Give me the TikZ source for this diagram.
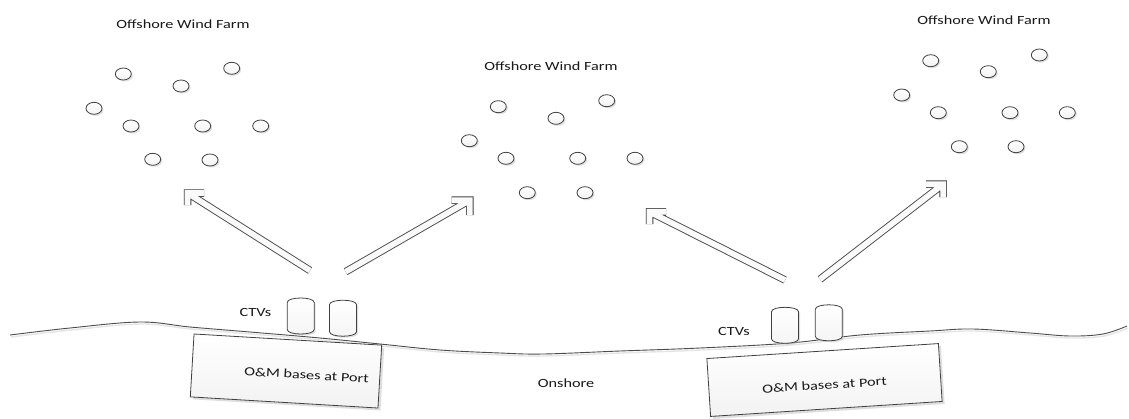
\documentclass[tikz,border=0pt]{standalone}
\usepackage{fontspec}
\newfontfamily\lblfont{Carlito}[FakeStretch=1.3]
\usetikzlibrary{shapes.geometric,shadows}
\tikzset{
  lbl/.style={font=\lblfont\fontsize{12.5}{15}\selectfont, text=black!90, inner sep=0pt},
  turbine/.style={ellipse, draw=black!75, line width=0.8pt, top color=white, bottom color=black!5,
    minimum width=16pt, minimum height=12pt, inner sep=0pt,
    drop shadow={shadow xshift=1.5pt, shadow yshift=-1.5pt, fill=black!25, opacity=0.5}},
  portbox/.style={rectangle, draw=black!75, line width=0.8pt, top color=white, bottom color=black!5,
    inner sep=0pt, drop shadow={shadow xshift=2.5pt, shadow yshift=-2.5pt, fill=black!25, opacity=0.5}},
  ctvshape/.style={draw=black!75, line width=0.8pt, top color=white, bottom color=black!4,
    drop shadow={shadow xshift=1.5pt, shadow yshift=-1.5pt, fill=black!25, opacity=0.5}},
  coast/.style={draw=black!70, line width=0.9pt},
  coastshade/.style={draw=black!10, line width=1.4pt},
  arrowedge/.style={draw=black!70, line width=7.5pt, line join=miter, line cap=butt},
  arrowinner/.style={draw=black!2, line width=5.7pt, line join=miter, line cap=butt},
  arrowshade/.style={draw=black!12, line width=7.5pt, line join=miter, line cap=butt},
  ctv/.pic={\path[ctvshape] (-13.5,-13.5) .. controls (-13.5,-19.5) and (13.5,-19.5) .. (13.5,-13.5)
     -- (13.5,13.5) .. controls (13.5,19.5) and (-13.5,19.5) .. (-13.5,13.5) -- cycle;}
}
\newcommand\hollowarrow[4]{%
  \begin{scope}[shift={(1.8,1.8)}]
    \draw[arrowshade] (#1) -- (#2) (#3) -- (#2) -- (#4);
  \end{scope}
  \draw[arrowedge] (#1) -- (#2) (#3) -- (#2) -- (#4);
  \draw[arrowinner] (#1) -- (#2) (#3) -- (#2) -- (#4);
}
\begin{document}
\begin{tikzpicture}[x=1pt,y=-1pt]
\useasboundingbox[fill=white] (0,0) rectangle (1129,418);

% coastline
\begin{scope}[shift={(1,2)}]
\draw[coastshade] plot[smooth, tension=0.6] coordinates {(10,335) (70,328) (140,322) (190,327) (250,332) (320,338) (380,344) (440,350) (500,353) (543,354) (620,351) (700,348) (790,343) (860,335) (930,331) (973,329) (1030,333) (1070,336) (1103,334) (1127,326)};
\end{scope}
\draw[coast] plot[smooth, tension=0.6] coordinates {(10,335) (70,328) (140,322) (190,327) (250,332) (320,338) (380,344) (440,350) (500,353) (543,354) (620,351) (700,348) (790,343) (860,335) (930,331) (973,329) (1030,333) (1070,336) (1103,334) (1127,326)};

% wind farm titles
\node[lbl, anchor=base] (t1) at (183,28) {Offshore Wind Farm};
\node[lbl, anchor=base] (t2) at (551,70) {Offshore Wind Farm};
\node[lbl, anchor=base] (t3) at (984,24) {Offshore Wind Farm};

% farm 1
\node[turbine] (f1a) at (123.3,74) {};
\node[turbine] (f1b) at (181,86) {};
\node[turbine] (f1c) at (231.7,68.3) {};
\node[turbine] (f1d) at (94,108.3) {};
\node[turbine] (f1e) at (131,126) {};
\node[turbine] (f1f) at (202.7,126) {};
\node[turbine] (f1g) at (260.7,126) {};
\node[turbine] (f1h) at (152.7,159.3) {};
\node[turbine] (f1i) at (210,160) {};
% farm 2
\node[turbine] (f2a) at (498.3,106.7) {};
\node[turbine] (f2b) at (556,118.3) {};
\node[turbine] (f2c) at (606.7,100.7) {};
\node[turbine] (f2d) at (469.3,140.7) {};
\node[turbine] (f2e) at (506,158.3) {};
\node[turbine] (f2f) at (577.7,158.3) {};
\node[turbine] (f2g) at (635,158.3) {};
\node[turbine] (f2h) at (527.3,192.7) {};
\node[turbine] (f2i) at (585,192.7) {};
% farm 3
\node[turbine] (f3a) at (930.7,60.7) {};
\node[turbine] (f3b) at (988.3,71.7) {};
\node[turbine] (f3c) at (1039.3,55) {};
\node[turbine] (f3d) at (901.7,95) {};
\node[turbine] (f3e) at (938.3,112.7) {};
\node[turbine] (f3f) at (1010,112.7) {};
\node[turbine] (f3g) at (1067.3,112.7) {};
\node[turbine] (f3h) at (959.3,146.7) {};
\node[turbine] (f3i) at (1016,146.7) {};

% arrows
\coordinate (a1s) at (310,270.5);
\coordinate (a1t) at (187.5,193);
\coordinate (a1h) at (204,193);
\coordinate (a1v) at (187.5,205);
\coordinate (a2s) at (345.7,271.7);
\coordinate (a2t) at (469.8,200.2);
\coordinate (a2h) at (451.7,200.2);
\coordinate (a2v) at (469.8,215);
\coordinate (a3s) at (785,280);
\coordinate (a3t) at (649.5,211.8);
\coordinate (a3h) at (666,211.8);
\coordinate (a3v) at (649.5,224);
\coordinate (a4s) at (820,279.3);
\coordinate (a4t) at (943.2,184.2);
\coordinate (a4h) at (926,184.2);
\coordinate (a4v) at (943.2,197);
\hollowarrow{a1s}{a1t}{a1h}{a1v}
\hollowarrow{a2s}{a2t}{a2h}{a2v}
\hollowarrow{a3s}{a3t}{a3h}{a3v}
\hollowarrow{a4s}{a4t}{a4h}{a4v}

% CTVs
\pic (ctv1) at (300.7,316) {ctv};
\pic (ctv2) at (343,318.2) {ctv};
\pic (ctv3) at (785,325.3) {ctv};
\pic (ctv4) at (828.8,322.8) {ctv};
\node[lbl, anchor=base] (ctvl1) at (255.5,316) {CTVs};
\node[lbl, anchor=base] (ctvl2) at (734,335) {CTVs};

% O&M bases
\node[portbox, minimum width=188pt, minimum height=63pt, rotate=-3.4] (b1) at (286,371) {};
\node[lbl, rotate=-3.4] (b1t) at (306.5,375) {O\&M bases at Port};
\node[portbox, minimum width=232pt, minimum height=58pt, rotate=3.7] (b2) at (824.5,380) {};
\node[lbl, rotate=3.7] (b2t) at (824.5,385) {O\&M bases at Port};

\node[lbl, anchor=base] (on) at (566,387) {Onshore};
\end{tikzpicture}
\end{document}
